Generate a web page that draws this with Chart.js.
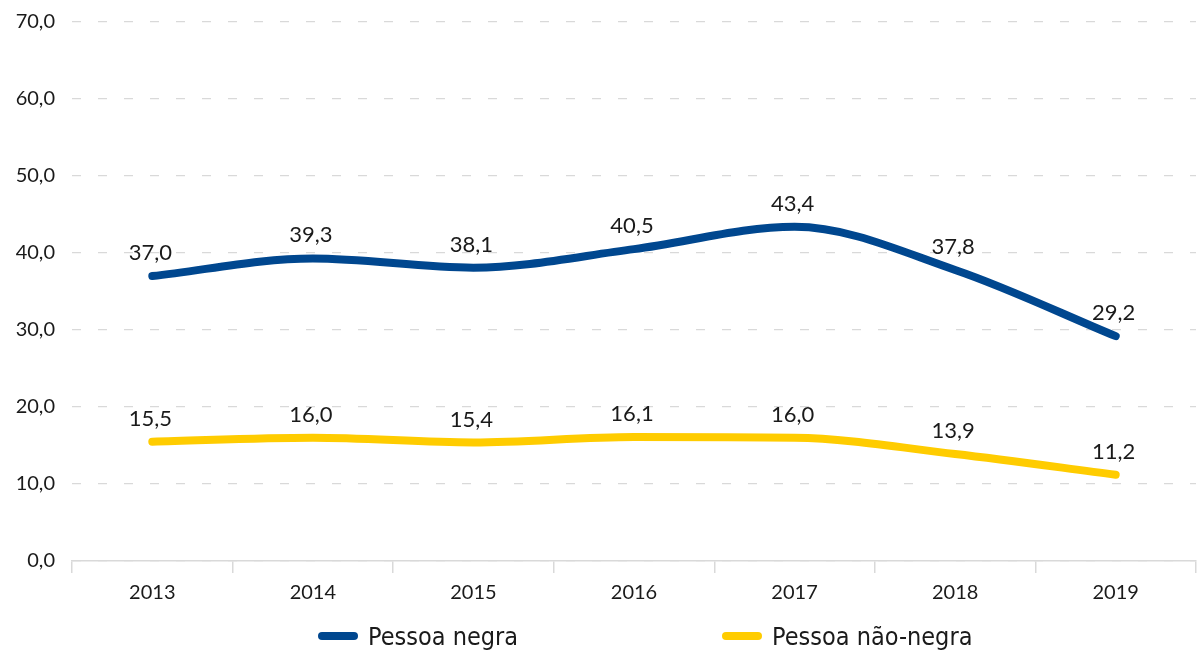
<!DOCTYPE html>
<html>
<head>
<meta charset="utf-8">
<script src="https://cdn.jsdelivr.net/npm/chart.js@4/dist/chart.umd.min.js"></script>
<style>
  html, body { margin: 0; padding: 0; background: #ffffff; }
  #wrap { position: relative; width: 1200px; height: 651px; }
  #legend { position: absolute; left: 0; top: 621px; width: 1200px; height: 30px;
    font-family: "Liberation Sans Narrow", "DejaVu Sans Condensed", "Roboto Condensed", "Liberation Sans", sans-serif;
    font-size: 25px; color: #1a1a1a; }
  .item { position: absolute; top: 0; height: 30px; display: flex; align-items: center; }
  .swatch { width: 40px; height: 8px; border-radius: 4px; margin-right: 10px; }
</style>
</head>
<body>
<div id="wrap">
  <canvas id="c" width="1200" height="651"></canvas>
  <div id="legend"></div>
</div>
<script>
const categories = ['2013', '2014', '2015', '2016', '2017', '2018', '2019'];
const seriesNames = ['Pessoa negra', 'Pessoa não-negra'];
const negra = [37.0, 39.3, 38.1, 40.5, 43.4, 37.8, 29.2];
const naoNegra = [15.5, 16.0, 15.4, 16.1, 16.0, 13.9, 11.2];
const yTickLabels = ['0,0', '10,0', '20,0', '30,0', '40,0', '50,0', '60,0', '70,0'];
const colors = ['#00478f', '#ffcc00'];

const fmt = v => v.toFixed(1).replace('.', ',');

const dataLabels = {
  id: 'dataLabels',
  afterDatasetsDraw(chart) {
    const ctx = chart.ctx;
    ctx.save();
    ctx.font = '22px Lato, "Open Sans", sans-serif';
    ctx.fillStyle = '#1a1a1a';
    ctx.textAlign = 'center';
    ctx.textBaseline = 'middle';
    chart.data.datasets.forEach((ds, di) => {
      const meta = chart.getDatasetMeta(di);
      meta.data.forEach((pt, i) => {
        ctx.fillText(fmt(ds.data[i]), pt.x - 2, pt.y - 23);
      });
    });
    ctx.restore();
  }
};

new Chart(document.getElementById('c'), {
  type: 'line',
  data: {
    labels: categories,
    datasets: [
      { label: seriesNames[0], data: negra, borderColor: colors[0], backgroundColor: colors[0],
        borderWidth: 8, borderCapStyle: 'round', borderJoinStyle: 'round',
        pointRadius: 0, cubicInterpolationMode: 'monotone', fill: false },
      { label: seriesNames[1], data: naoNegra, borderColor: colors[1], backgroundColor: colors[1],
        borderWidth: 8, borderCapStyle: 'round', borderJoinStyle: 'round',
        pointRadius: 0, cubicInterpolationMode: 'monotone', fill: false }
    ]
  },
  options: {
    responsive: false,
    animation: false,
    layout: { padding: { top: 22, right: 4, left: 0, bottom: 0 } },
    plugins: {
      legend: { display: false },
      tooltip: { enabled: false }
    },
    scales: {
      x: {
        offset: true,
        grid: { display: true, drawOnChartArea: false, drawTicks: true, tickLength: 12,
                color: '#d9d9d9', offset: true, lineWidth: 1.5 },
        border: { display: true, color: '#d9d9d9', width: 1.5 },
        ticks: { color: '#1a1a1a', padding: 8, font: { family: 'Lato, "Open Sans", sans-serif', size: 20 } },
        afterFit(scale) { scale.height = 90; scale.paddingLeft = 0; scale.paddingRight = 0; }
      },
      y: {
        min: 0, max: 70,
        ticks: { stepSize: 10, padding: 17, color: '#1a1a1a',
                 font: { family: 'Lato, "Open Sans", sans-serif', size: 20 },
                 callback: (v, i) => yTickLabels[i] },
        grid: { color: '#d9d9d9', drawTicks: false, lineWidth: 1.2 },
        border: { display: false, dash: [9, 17] },
        afterFit(scale) { scale.width = 72; scale.paddingTop = 0; scale.paddingBottom = 0; }
      }
    }
  },
  plugins: [dataLabels]
});

const legend = document.getElementById('legend');
const legendLeft = [318, 722];
seriesNames.forEach((name, i) => {
  const item = document.createElement('div');
  item.className = 'item';
  item.style.left = legendLeft[i] + 'px';
  const sw = document.createElement('div');
  sw.className = 'swatch';
  sw.style.background = colors[i];
  const tx = document.createElement('span');
  tx.textContent = name;
  item.appendChild(sw);
  item.appendChild(tx);
  legend.appendChild(item);
});
</script>
</body>
</html>
